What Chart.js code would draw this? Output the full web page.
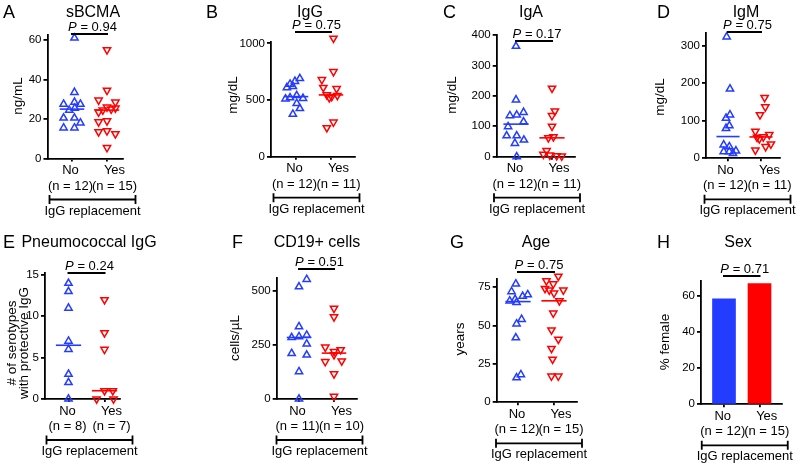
<!DOCTYPE html>
<html>
<head>
<meta charset="utf-8">
<script src="https://cdn.jsdelivr.net/npm/chart.js@4.4.1/dist/chart.umd.min.js"></script>
<style>
body { margin: 0; background: #fff; width: 800px; height: 465px; position: relative; overflow: hidden; }
canvas { position: absolute; }
</style>
</head>
<body>
<script>
const groups = ['No', 'Yes'];
const pValues = ['0.94', '0.75', '0.17', '0.75', '0.24', '0.51', '0.75', '0.71'];

// A sBCMA
const sbcmaNo = [61, 33.5, 28.5, 27.5, 27.5, 25.5, 24.5, 20.5, 20.5, 18, 15.5, 15.5];
const sbcmaNoJit = [0.07, 0.07, 0.07, -0.24, 0.24, 0.08, -0.08, -0.24, 0.07, 0.24, -0.24, 0.07];
const sbcmaYes = [55, 34.5, 29.5, 28.5, 26, 25.5, 25, 24.5, 23.5, 19, 18.5, 14, 13.5, 12.5, 5.5];
const sbcmaYesJit = [0, 0, -0.24, 0.24, 0, 0.24, 0.12, -0.12, -0.24, 0, -0.24, 0, -0.24, 0.24, 0];
const sbcmaTicks = [0, 20, 40, 60];

// B IgG
const iggNo = [690, 665, 640, 620, 610, 540, 520, 515, 510, 470, 425, 375];
const iggNoJit = [0.11, -0.03, -0.17, -0.09, -0.26, 0.02, -0.17, 0.2, -0.3, 0.02, 0.11, -0.09];
const iggYes = [1045, 750, 680, 610, 600, 545, 540, 530, 520, 305, 255];
const iggYesJit = [0.07, 0.07, -0.26, -0.22, 0.16, -0.12, 0.18, 0.02, -0.05, 0.07, -0.12];
const iggTicks = [0, 500, 1000];

// C IgA
const igaNo = [363, 187, 146, 137, 135, 115, 99, 69, 69, 55, 44, 0];
const igaNoJit = [0, 0, 0.21, 0.02, -0.17, 0.21, -0.22, -0.26, 0.02, 0.22, -0.03, 0.02];
const igaYes = [225, 150, 135, 100, 65, 62, 20, 8, 5, 3, 2];
const igaYesJit = [0, 0.08, 0, 0, 0.04, -0.1, -0.15, -0.24, -0.06, 0.13, 0.27];
const igaTicks = [0, 100, 200, 300, 400];

// D IgM
const igmNo = [324, 185, 116, 107, 87, 80, 36, 31, 20, 18, 18, 13];
const igmNoJit = [-0.04, 0.06, 0.06, -0.06, 0.04, -0.06, -0.13, 0.04, 0.24, -0.13, 0.04, 0.15];
const igmYes = [162, 137, 116, 72, 63, 57, 56, 52, 38, 31, 22];
const igmYesJit = [0.11, 0.13, -0.03, -0.17, 0.25, 0.07, -0.12, -0.05, 0.3, 0.14, -0.17];
const igmTicks = [0, 100, 200, 300];

// E Pneumococcal IgG
const pneuNo = [14, 13, 11, 7, 6, 3, 2, 0];
const pneuNoJit = [0, 0, 0, 0, 0, 0, 0, 0];
const pneuYes = [12, 8, 6, 1, 1, 0, 0];
const pneuYesJit = [0, 0, 0, 0, 0.23, -0.22, 0.25];
const pneuTicks = [0, 5, 10, 15];

// F CD19+ cells
const cd19No = [554, 520, 335, 296, 289, 285, 255, 211, 204, 127, 0];
const cd19NoJit = [0.22, 0, 0, 0.22, 0, -0.21, 0.22, -0.21, 0.22, 0, 0];
const cd19Yes = [420, 380, 240, 228, 220, 205, 176, 173, 116, 12];
const cd19YesJit = [0, 0, -0.25, 0.19, 0, 0, 0.22, -0.25, 0, 0];
const cd19Ticks = [0, 250, 500];

// G Age
const ageNo = [77, 72, 70, 69, 67, 66, 65, 54, 51, 42, 18, 16];
const ageNoJit = [-0.06, -0.18, 0.27, 0.13, -0.08, -0.23, -0.04, 0.1, -0.04, -0.06, 0.08, -0.04];
const ageYes = [82, 79, 77, 74, 73, 73, 71, 66, 58, 47, 41, 35, 28, 17, 17];
const ageYesJit = [0.12, -0.21, -0.02, -0.25, -0.13, 0.26, 0, 0.15, -0.02, -0.07, 0.12, -0.07, -0.04, -0.07, 0.12];
const ageTicks = [0, 25, 50, 75];

// H Sex
const sexPct = [58.3, 66.7];
const sexN = [12, 15];
const sexTicks = [0, 20, 40, 60];

const font = '"Liberation Sans", Arial, sans-serif';
const blue = 'rgb(35,60,255)';
const red = 'rgb(255,0,0)';

// layout: box = [axis left, top, right, bottom] in panel pixels, cx = No/Yes centres
const panels = [
    { letter: 'A', title: 'sBCMA', ylab: ['ng/mL'], no: sbcmaNo, noJit: sbcmaNoJit, yes: sbcmaYes, yesJit: sbcmaYesJit, ticks: sbcmaTicks, max: 62.5,
      box: [47.5, 35, 123, 158.5], cx: [72, 107], titleX: 93, letterX: 3, ylabPos: [18, 96], pY: 34 },
    { letter: 'B', title: 'IgG', ylab: ['mg/dL'], no: iggNo, noJit: iggNoJit, yes: iggYes, yesJit: iggYesJit, ticks: iggTicks, max: 1010,
      box: [71, 42.2, 155, 156.7], cx: [96, 131], titleX: 110, letterX: 6, ylabPos: [33, 95], pY: 32 },
    { letter: 'C', title: 'IgA', ylab: ['mg/dL'], no: igaNo, noJit: igaNoJit, yes: igaYes, yesJit: igaYesJit, ticks: igaTicks, max: 400,
      box: [96.7, 35, 175, 156.7], cx: [116, 152], titleX: 131, letterX: 43, ylabPos: [52, 95], pY: 41 },
    { letter: 'D', title: 'IgM', ylab: ['mg/dL'], no: igmNo, noJit: igmNoJit, yes: igmYes, yesJit: igmYesJit, ticks: igmTicks, max: 335,
      box: [106, 32.7, 180, 158.3], cx: [128, 161], titleX: 146, letterX: 57, ylabPos: [60, 97], pY: 32 },
    { letter: 'E', title: 'Pneumococcal IgG', ylab: ['# of serotypes', 'with protective IgG'], no: pneuNo, noJit: pneuNoJit, yes: pneuYes, yesJit: pneuYesJit, ticks: pneuTicks, max: 15.2,
      box: [45, 43.3, 120, 169], cx: [68.5, 104.5], titleX: 89, letterX: 3, ylabPos: [18, 113], pY: 43 },
    { letter: 'F', title: 'CD19+ cells', ylab: ['cells/µL'], no: cd19No, noJit: cd19NoJit, yes: cd19Yes, yesJit: cd19YesJit, ticks: cd19Ticks, max: 559,
      box: [76.7, 48.3, 157, 169], cx: [99, 134], titleX: 117, letterX: 32, ylabPos: [35, 108], pY: 39 },
    { letter: 'G', title: 'Age', ylab: ['years'], no: ageNo, noJit: ageNoJit, yes: ageYes, yesJit: ageYesJit, ticks: ageTicks, max: 80,
      box: [96.7, 49.3, 176.7, 172.3], cx: [118, 154], titleX: 136, letterX: 50, ylabPos: [60, 109], pY: 42 },
    { letter: 'H', title: 'Sex', ylab: ['% female'], bars: sexPct, n: sexN, ticks: sexTicks, max: 68.3,
      box: [101, 50.7, 181.7, 174.3], cx: [124, 159.5], titleX: 138, letterX: 57, ylabPos: [65, 112], pY: 46 }
];

const median = arr => {
    const s = [...arr].sort((a, b) => a - b);
    const m = s.length >> 1;
    return s.length % 2 ? s[m] : (s[m - 1] + s[m]) / 2;
}

const pts = (vals, jit, c) => vals.map((v, k) => ({ x: c + jit[k], y: v }));

const makeAnnot = (p, idx) => ({
    id: 'annot' + idx,
    afterDraw(chart) {
        const ctx = chart.ctx;
        const xs = chart.scales.x;
        const B = chart.chartArea.bottom;
        const xn = xs.getPixelForValue(1), xy = xs.getPixelForValue(2);
        const mid = (xn + xy) / 2 + 3;
        const n = p.n || [p.no.length, p.yes.length];
        ctx.save();
        ctx.fillStyle = '#000';
        ctx.strokeStyle = '#000';
        ctx.textBaseline = 'alphabetic';

        ctx.font = '18px ' + font;
        ctx.textAlign = 'left';
        ctx.fillText(p.letter, p.letterX, 17.5);
        ctx.font = '16px ' + font;
        ctx.textAlign = 'center';
        ctx.fillText(p.title, p.titleX, 16.5);

        // P value + bracket
        ctx.font = 'italic 13px ' + font;
        const wP = ctx.measureText('P').width;
        ctx.font = '13px ' + font;
        const rest = ' = ' + pValues[idx];
        const wR = ctx.measureText(rest).width;
        const x0 = mid - (wP + wR) / 2;
        ctx.textAlign = 'left';
        ctx.font = 'italic 13px ' + font;
        ctx.fillText('P', x0, p.pY - 3.5);
        ctx.font = '13px ' + font;
        ctx.fillText(rest, x0 + wP, p.pY - 3.5);
        ctx.lineWidth = 1.8;
        ctx.beginPath();
        ctx.moveTo(xn - 1, p.pY);
        ctx.lineTo(xy + 1, p.pY);
        ctx.stroke();

        // group labels
        ctx.textAlign = 'center';
        groups.forEach((g, k) => {
            const gx = mid + (k ? 22 : -22);
            ctx.fillText(g, gx, B + 15.5);
            ctx.fillText('(n = ' + n[k] + ')', gx, B + 31);
        });

        // IgG replacement bracket
        const by = B + 41;
        ctx.lineWidth = 1.8;
        ctx.beginPath();
        ctx.moveTo(mid - 43, by); ctx.lineTo(mid + 43, by);
        ctx.moveTo(mid - 43, by - 4.5); ctx.lineTo(mid - 43, by + 4.5);
        ctx.moveTo(mid + 43, by - 4.5); ctx.lineTo(mid + 43, by + 4.5);
        ctx.stroke();
        ctx.fillText('IgG replacement', mid, B + 56);

        // y axis title
        ctx.translate(p.ylabPos[0], p.ylabPos[1]);
        ctx.rotate(-Math.PI / 2);
        ctx.font = '13.5px ' + font;
        ctx.textBaseline = 'middle';
        p.ylab.forEach((t, k) => ctx.fillText(t, 0, (k - (p.ylab.length - 1) / 2) * 12));
        ctx.restore();
    }
});

panels.forEach((p, i) => {
    const col = i % 4, row = Math.floor(i / 4);
    const W = 200, H = row ? 235 : 230;
    const cv = document.createElement('canvas');
    cv.width = W; cv.height = H;
    cv.style.left = (col * 200) + 'px';
    cv.style.top = (row * 230) + 'px';
    document.body.appendChild(cv);

    const s = p.cx[1] - p.cx[0];
    const xmin = 1 - (p.cx[0] - p.box[0]) / s;
    const xmax = 2 + (p.box[2] - p.cx[1]) / s;

    let datasets;
    if (p.bars) {
        datasets = [{
            data: p.bars.map((v, k) => ({ x: k + 1, y: v })),
            backgroundColor: [blue, red],
            borderWidth: 0,
            barThickness: 23
        }];
    } else {
        const tri = (data, color, rot) => ({
            data, showLine: false, clip: false,
            pointStyle: 'triangle', pointRadius: 4.2, pointRotation: rot,
            pointBorderColor: color, pointBackgroundColor: 'rgba(0,0,0,0)', pointBorderWidth: 1.5,
            borderColor: color
        });
        const med = (vals, c, color) => ({
            type: 'line', data: [{ x: c - 0.35, y: median(vals) }, { x: c + 0.35, y: median(vals) }],
            borderColor: color, borderWidth: 1.6, pointRadius: 0, showLine: true, clip: false
        });
        datasets = [
            tri(pts(p.no, p.noJit, 1), blue, 0),
            tri(pts(p.yes, p.yesJit, 2), red, 180),
            med(p.no, 1, blue),
            med(p.yes, 2, red)
        ];
    }

    const options = {
        responsive: false,
        animation: false,
        devicePixelRatio: 1,
        events: [],
        layout: { padding: { left: 0, top: p.box[1], right: W - p.box[2], bottom: 0 } },
        plugins: { legend: { display: false }, tooltip: { enabled: false } },
        scales: {
            x: {
                type: 'linear', min: xmin, max: xmax, offset: false,
                afterBuildTicks: sc => { sc.ticks = [{ value: 1 }, { value: 2 }]; },
                afterFit: sc => { sc.height = H - p.box[3]; },
                ticks: { display: false },
                grid: { offset: false, drawOnChartArea: false, drawTicks: true, tickLength: 3, color: '#000', lineWidth: 1.8 },
                border: { color: '#000', width: 1.8 }
            },
            y: {
                type: 'linear', min: 0, max: p.max,
                afterBuildTicks: sc => { sc.ticks = p.ticks.map(v => ({ value: v })); },
                afterFit: sc => { sc.width = p.box[0]; },
                ticks: { color: '#000', font: { family: font, size: 11.5 }, padding: 2, callback: v => String(v) },
                grid: { drawOnChartArea: false, drawTicks: true, tickLength: 4, color: '#000', lineWidth: 1.8 },
                border: { color: '#000', width: 1.8 }
            }
        }
    };

    new Chart(cv, { type: p.bars ? 'bar' : 'scatter', data: { datasets }, options, plugins: [makeAnnot(p, i)] });
});
</script>
</body>
</html>
